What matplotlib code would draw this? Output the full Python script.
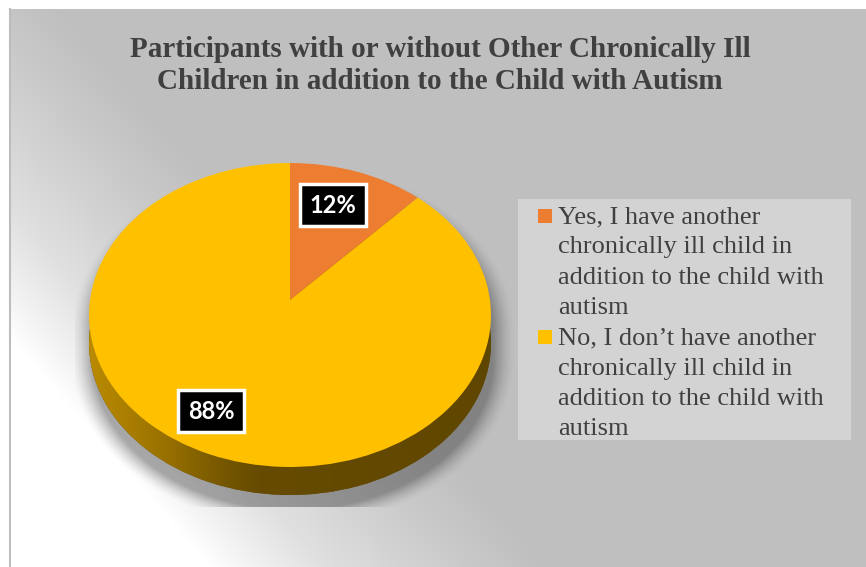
import numpy as np
import matplotlib
matplotlib.use("Agg")
import matplotlib.pyplot as plt
from matplotlib.transforms import Transform, Affine2D
from matplotlib.colors import LinearSegmentedColormap
from matplotlib.patches import Rectangle

# Daten
TITLE_LINES = ["Participants with or without Other Chronically Ill",
               "Children in addition to the Child with Autism"]
CATEGORIES = [
    ["Yes, I have another", "chronically ill child in",
     "addition to the child with", "autism"],
    ["No, I don\u2019t have another", "chronically ill child in",
     "addition to the child with", "autism"],
]
SHARES = [12, 88]
COLORS = ["#ED7D31", "#FFC000"]
SIDE_COLORS = ["#8A4A1C", "#664B00"]
LABEL_POS = [(0.215, 0.631), (-0.395, -0.738)]

W, H = 866, 567
CX, CY = 290, 300          # Tortenmitte in Pixeln (von oben)
RX, RY = 200, 150.5        # Pixel pro Einheit
DEPTH = 28                 # Dicke der Torte in Pixeln
K = 0.0987                 # Perspektive


class Tilt(Transform):
    """Einfache Perspektive: hintere Seite (y>0) wird kleiner gezeichnet."""
    input_dims = output_dims = 2
    is_separable = False
    has_inverse = False

    def __init__(self, k):
        super().__init__()
        self.k = k

    def transform_non_affine(self, values):
        v = np.asarray(values, float)
        w = 1 + self.k * v[:, 1]
        return np.column_stack([v[:, 0] / w, v[:, 1] / w])


fig = plt.figure(figsize=(W / 100, H / 100), dpi=100)
fig.patch.set_facecolor("white")

# Hintergrund (diagonaler Verlauf)
bg = fig.add_axes([0, 0, 1, 1])
bg.axis("off")
yy, xx = np.mgrid[0:H, 0:W] + 0.5
p = 0.752 * xx - 0.659 * yy
g = np.interp(p, [-215, -190, -130, -70, -15, 40], [255, 245, 224, 211, 200, 191]) / 255
bg.imshow(np.dstack([g, g, g]), extent=(0, W, H, 0), interpolation="bilinear", zorder=0)
bg.add_patch(Rectangle((0, 0), W, 9, fc="white", ec="none", zorder=1))
bg.add_patch(Rectangle((0, 0), 9, H, fc="white", ec="none", zorder=1))
bg.plot([9.5, 9.5], [9, H], color="#bdbdbd", lw=1.5, zorder=2)

# Schatten der Torte
sy = yy - 16
ycl = np.clip(sy, 315, 315 + DEPTH)
d = np.hypot((xx - 293) / RX, (sy - ycl) / RY)
dist = (d - 1) * 175
a = 0.32 * np.clip(1 - dist / 20, 0, 1) ** 1.6
a[(xx < 75) | (yy > 507) | (xx > 515)] = 0
shadow = np.zeros((H, W, 4))
shadow[..., 3] = a
bg.imshow(shadow, extent=(0, W, H, 0), interpolation="bilinear", zorder=3)
bg.set_xlim(0, W)
bg.set_ylim(H, 0)
bg.set_aspect("auto")

# Torte
pa = fig.add_axes([0, 0, 1, 1])
pa.set_zorder(2)
tilt = Tilt(K)
drop = Affine2D().translate(0, -DEPTH / RY)

side, _ = pa.pie(SHARES, colors=SIDE_COLORS, startangle=90, counterclock=False,
                 wedgeprops=dict(linewidth=0))
for w in side:
    w.set_transform(tilt + drop + pa.transData)
    w.set_zorder(1)

side_cmap = LinearSegmentedColormap.from_list(
    "side", [(0.0, "#c29100"), (0.21, "#9a7200"), (0.28, "#876400"),
             (0.36, "#735500"), (0.43, "#664b00"), (1.0, "#5f4600")])
im = pa.imshow(np.linspace(0, 1, 256)[None, :], cmap=side_cmap,
               extent=(-1.1, 1.1, -1.6, 0.3), aspect="auto", zorder=2,
               interpolation="bilinear")
im.set_clip_path(side[1])

wedges, _, autotexts = pa.pie(SHARES, colors=COLORS, startangle=90, counterclock=False,
                              autopct="%.0f%%", wedgeprops=dict(linewidth=0))
for w in wedges:
    w.set_transform(tilt + pa.transData)
    w.set_zorder(3)
for txt, pos in zip(autotexts, LABEL_POS):
    txt.set_position(pos)
    txt.set(color="white", fontsize=17, fontweight="bold", family=["Lato", "DejaVu Sans"],
            ha="center", va="center", zorder=5)
    txt.set_bbox(dict(boxstyle="square,pad=0.42", fc="black", ec="white", lw=2.5))

pa.set_aspect("auto")
pa.set_xlim(-CX / RX, (W - CX) / RX)
pa.set_ylim(-(H - CY) / RY, CY / RY)
pa.axis("off")

# Titel
for i, line in enumerate(TITLE_LINES):
    fig.text(440 / W, 1 - (57 + i * 32) / H, line, ha="center", va="baseline",
             fontsize=21, fontweight="bold", family="Liberation Serif", color="#404040")

# Legende
lg = fig.add_axes([0, 0, 1, 1])
lg.set_xlim(0, W)
lg.set_ylim(H, 0)
lg.axis("off")
lg.set_zorder(4)
lg.add_patch(Rectangle((518, 199), 333, 241, fc="#d3d3d3", ec="none"))
pitch = 30.3
for i, (lines, col) in enumerate(zip(CATEGORIES, COLORS)):
    base = 223 + i * 4 * pitch
    lg.add_patch(Rectangle((538, base - 14), 14, 14, fc=col, ec="none"))
    for j, line in enumerate(lines):
        lg.text(558, base + j * pitch, line, ha="left", va="baseline",
                fontsize=19, family="Liberation Serif", color="#404040")

fig.savefig("out.png", dpi=100)
